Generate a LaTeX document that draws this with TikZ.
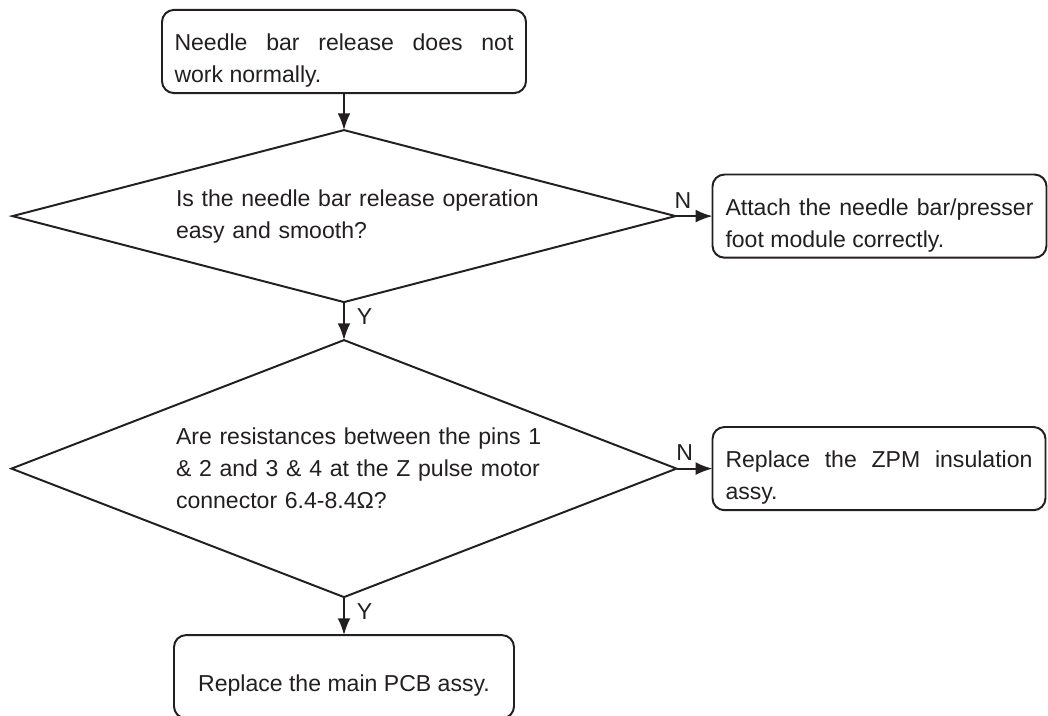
\documentclass[tikz,border=0pt]{standalone}
\usepackage{fontspec}
\setmainfont{Liberation Sans}
\usetikzlibrary{arrows.meta, positioning, shapes.geometric}
\definecolor{Ink}{HTML}{231F20}
\tikzset{
    % one line width for boxes, diamonds and arrows
    base_width/.style={line width=1.4pt},
    % rounded box for the fault and for each remedy
    % (the empty rule lifts the first line so the text sits a little low)
    action_box/.style={
        rectangle,
        draw=Ink,
        base_width,
        rounded corners=0.3cm,
        minimum height=2.08cm,
        inner ysep=0pt,
        outer sep=0pt,
        align=justify,
        text=Ink,
        font=\fontsize{16.4pt}{22.8pt}\selectfont,
        execute at begin node={\rule{0pt}{25pt}}
    },
    % diamond for each yes/no check (aspect keeps the text box inside the minimum size)
    check_diamond/.style={
        diamond,
        draw=Ink,
        base_width,
        inner sep=0pt,
        outer sep=0pt,
        text width=10.4cm,
        align=left,
        text=Ink,
        font=\fontsize{16.4pt}{22.8pt}\selectfont,
        execute at begin node={\leftskip=1cm\relax}
    },
    arrow/.style={
        ->,
        >={Latex[length=0.42cm, width=0.32cm]},
        draw=Ink,
        base_width
    },
    answer_label/.style={
        font=\fontsize{16.4pt}{22.8pt}\selectfont,
        text=Ink,
        inner sep=0pt
    }
}

\begin{document}
\begin{tikzpicture}[node distance=0.95cm and 0.925cm]
    \useasboundingbox (0,0) rectangle (26.2,-17.9);

    % --- MAIN COLUMN ---
    \node[action_box, text width=8.475cm, inner xsep=0.3125cm] (fault) at (8.6,-1.2875)
        {Needle bar release does not\linebreak work normally.};
    \node[check_diamond, aspect=3.855, minimum width=16.575cm, minimum height=4.3cm,
        below=0.925cm of fault] (release_check)
        {Is the needle bar release operation\\easy and smooth?};
    \node[check_diamond, aspect=2.588, minimum width=16.625cm, minimum height=6.425cm,
        below=of release_check] (resistance_check)
        {Are resistances between the pins 1\\\& 2 and 3 \& 4 at the Z pulse motor\\connector 6.4-8.4Ω?};
    \node[action_box, align=center, minimum width=8.5cm, below=of resistance_check] (replace_pcb)
        {Replace the main PCB assy.};

    % --- REMEDIES ON THE RIGHT ---
    \node[action_box, text width=7.7cm, inner xsep=0.325cm, right=of release_check] (attach_module)
        {Attach the needle bar/presser\linebreak foot module correctly.};
    \node[action_box, text width=7.675cm, inner xsep=0.325cm, right=0.9cm of resistance_check] (replace_zpm)
        {Replace the ZPM insulation\linebreak assy.};

    % --- CONNECTIONS ---
    \draw[arrow] (fault) -- (release_check);
    \draw[arrow] (release_check) -- node[answer_label, pos=0.2, above=0.17cm] {N} (attach_module);
    \draw[arrow] (release_check) -- node[answer_label, pos=0.37, right=0.3cm] {Y} (resistance_check);
    \draw[arrow] (resistance_check) -- node[answer_label, pos=0.23, above=0.17cm] {N} (replace_zpm);
    \draw[arrow] (resistance_check) -- node[answer_label, pos=0.38, right=0.3cm] {Y} (replace_pcb);

\end{tikzpicture}
\end{document}
